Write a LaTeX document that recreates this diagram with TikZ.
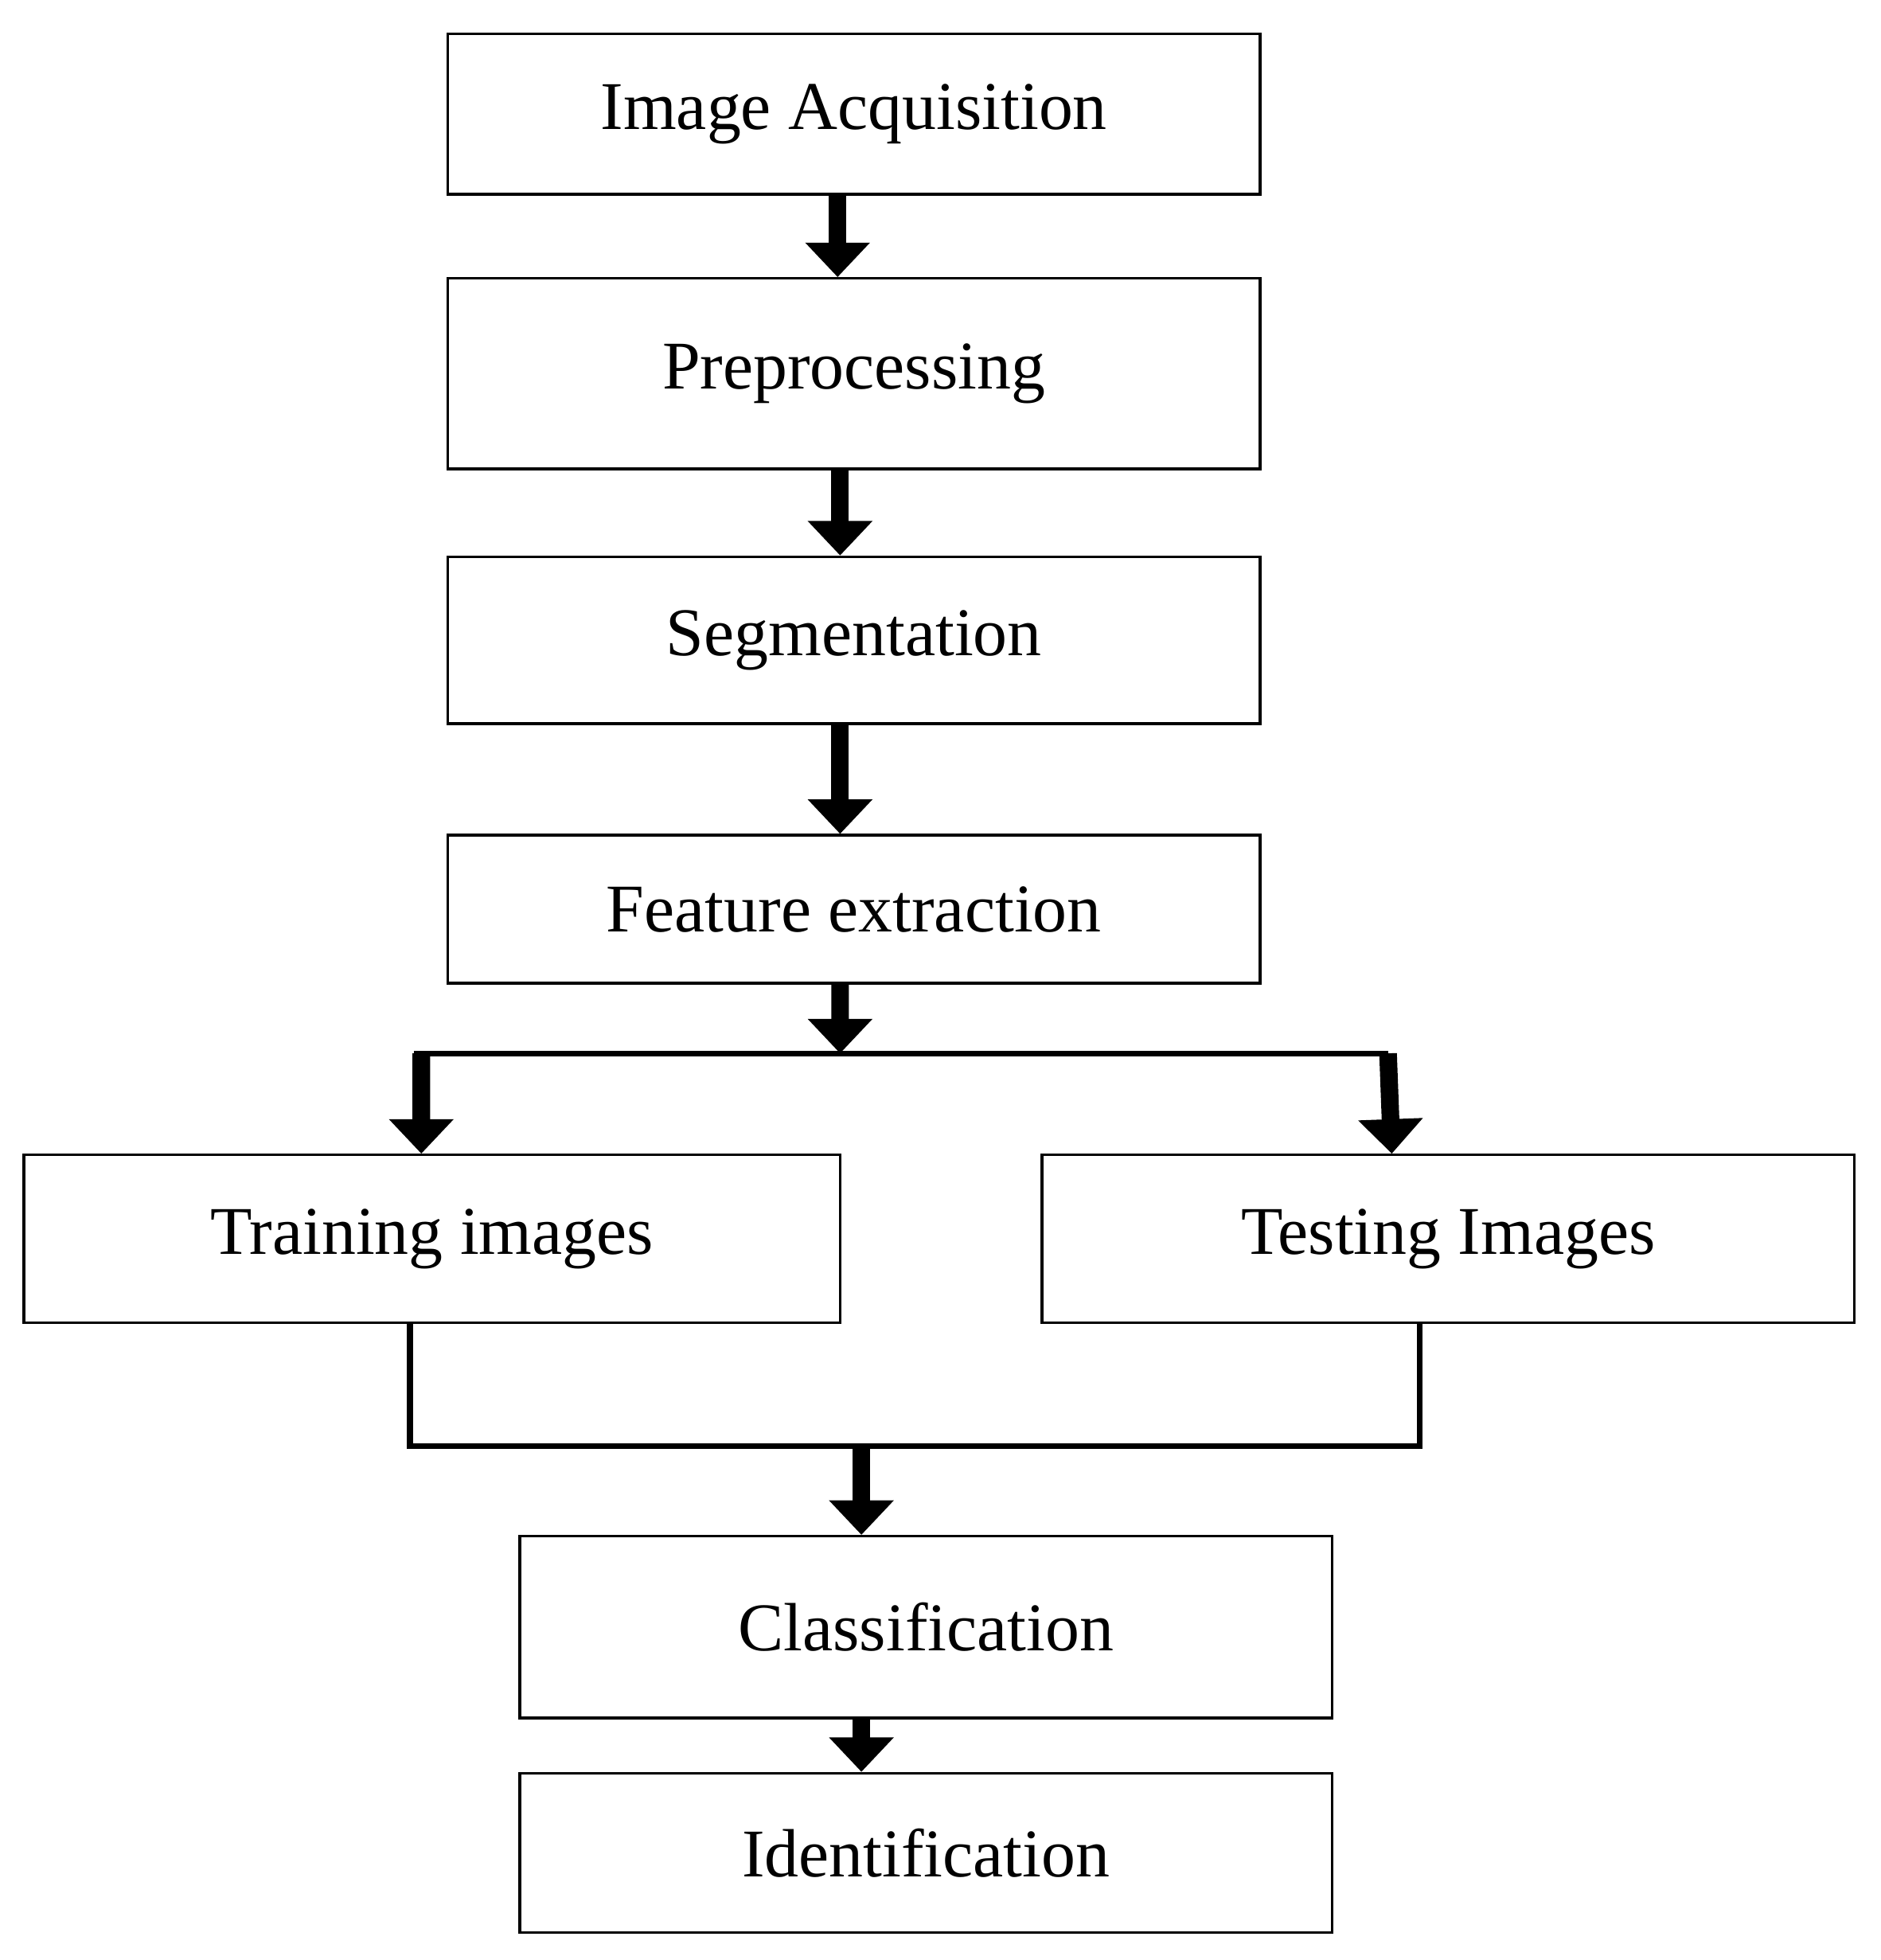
\documentclass[tikz,border=0pt]{standalone}
\usepackage{fontspec}
\setmainfont{Liberation Serif}
\usetikzlibrary{arrows.meta}
\begin{document}
\begin{tikzpicture}[x=0.02cm,y=-0.02cm,
  box/.style={draw,line width=1.2pt,minimum width=12.96cm,inner sep=0pt,font=\fontsize{31}{36}\selectfont},
  bar/.style={line width=8pt,-{Triangle[width=1cm 0,length=0.55cm 0]}},
  ln/.style={line width=2.6pt}]
\useasboundingbox (0,0) rectangle (1500,1563);
\node[box,minimum height=2.56cm] (ia) at (681,91) {Image Acquisition};
\node[box,minimum height=3.04cm] (pp) at (681,298) {Preprocessing};
\node[box,minimum height=2.66cm] (sg) at (681,510.5) {Segmentation};
\node[box,minimum height=2.36cm] (fe) at (681,725) {Feature extraction};
\node[box,minimum width=13.02cm,minimum height=2.68cm] (tr) at (344.5,988) {Training images};
\node[box,minimum height=2.68cm] (te) at (1155,988) {Testing Images};
\node[box,minimum height=2.9cm] (cl) at (738.5,1297.5) {Classification};
\node[box,minimum height=2.54cm] (id) at (738.5,1477.5) {Identification};
\coordinate (j) at (670,840);
\coordinate (jl) at (330,840);
\coordinate (jr) at (1107,840);
\coordinate (bl) at (327,1153);
\coordinate (br) at (1132,1153);
\coordinate (bm) at (687,1153);
\draw[bar] ([xshift=-0.26cm]ia.south) -- ([xshift=-0.26cm]pp.north);
\draw[bar] ([xshift=-0.22cm]pp.south) -- ([xshift=-0.22cm]sg.north);
\draw[bar] ([xshift=-0.22cm]sg.south) -- ([xshift=-0.22cm]fe.north);
\draw[bar] ([xshift=-0.22cm]fe.south) -- (j);
\draw[ln] (jl) -- (jr);
\draw[bar] ([xshift=0.12cm]jl) -- (tr.north -| 336,0);
\draw[bar] (jr) -- (te.north -| 1110,0);
\draw[ln] (tr.south -| bl) -- (bl) -- (br) -- (te.south -| br);
\draw[bar] (bm) -- (cl.north -| bm);
\draw[bar] (cl.south -| bm) -- (id.north -| bm);
\end{tikzpicture}
\end{document}
